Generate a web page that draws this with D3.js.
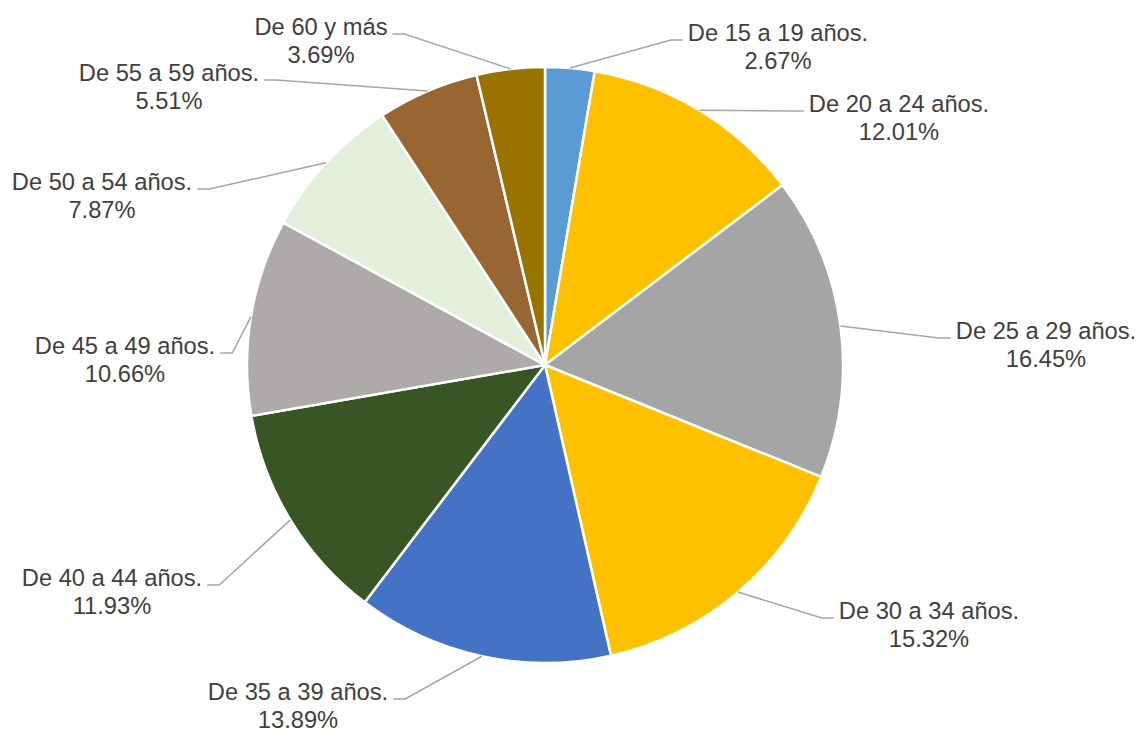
<!DOCTYPE html>
<html>
<head>
<meta charset="utf-8">
<script src="https://cdn.jsdelivr.net/npm/d3@7"></script>
<style>
  body { margin: 0; background: #fff; }
  text { font-family: "Liberation Sans", Arial, sans-serif; }
</style>
</head>
<body>
<div id="chart"></div>
<script>
const categories = [
  "De 15 a 19 años.", "De 20 a 24 años.", "De 25 a 29 años.", "De 30 a 34 años.",
  "De 35 a 39 años.", "De 40 a 44 años.", "De 45 a 49 años.", "De 50 a 54 años.",
  "De 55 a 59 años.", "De 60 y más"
];
const values = [2.67, 12.01, 16.45, 15.32, 13.89, 11.93, 10.66, 7.87, 5.51, 3.69];
const colors = [
  "#5b9bd5", "#ffc000", "#a5a5a5", "#ffc000", "#4472c4",
  "#375623", "#aeaaaa", "#e2efda", "#996633", "#997300"
];

// label layout: text centre x, baseline of first line
const labelPos = [
  [778, 41], [899, 112], [1046, 339], [929, 619], [298, 700],
  [112, 586], [125, 354], [102, 190], [169, 81], [321, 35]
];

const width = 1138;
const height = 729;
const cx = 545, cy = 365, radius = 298;

const svg = d3.select("#chart")
  .append("svg")
  .attr("width", width)
  .attr("height", height);

const data = categories.map((c, i) => ({ name: c, value: values[i], color: colors[i] }));

const pie = d3.pie()
  .value(d => d.value)
  .sort(null);

const arc = d3.arc()
  .innerRadius(0)
  .outerRadius(radius);

const arcs = pie(data);

const g = svg.append("g").attr("transform", `translate(${cx},${cy})`);

g.selectAll("path")
  .data(arcs)
  .enter()
  .append("path")
  .attr("d", arc)
  .attr("fill", d => d.data.color)
  .attr("stroke", "#fff")
  .attr("stroke-width", 2.5)
  .attr("stroke-linejoin", "round");

// labels
const labels = svg.selectAll("g.label")
  .data(arcs)
  .enter()
  .append("g")
  .attr("class", "label");

labels.each(function(d, i) {
  const sel = d3.select(this);
  const [lx, ly] = labelPos[i];
  const t = sel.append("text")
    .attr("text-anchor", "middle")
    .attr("font-size", "23.7px")
    .attr("fill", "#404040");
  t.append("tspan").attr("x", lx).attr("y", ly).text(d.data.name);
  t.append("tspan").attr("x", lx).attr("y", ly + 27.5).text(d.data.value.toFixed(2) + "%");

  const w = t.select("tspan").node().getComputedTextLength();
  const mid = (d.startAngle + d.endAngle) / 2;
  const px = cx + radius * Math.sin(mid);
  const py = cy - radius * Math.cos(mid);
  const right = lx > cx;
  const endX = right ? lx - w / 2 - 5 : lx + w / 2 + 5;
  const elbowX = right ? endX - 12 : endX + 12;
  const ey = ly - 1;

  sel.insert("polyline", "text")
    .attr("points", [[px, py], [elbowX, ey], [endX, ey]].map(p => p.join(",")).join(" "))
    .attr("fill", "none")
    .attr("stroke", "#a6a6a6")
    .attr("stroke-width", 1.5);
});
</script>
</body>
</html>
